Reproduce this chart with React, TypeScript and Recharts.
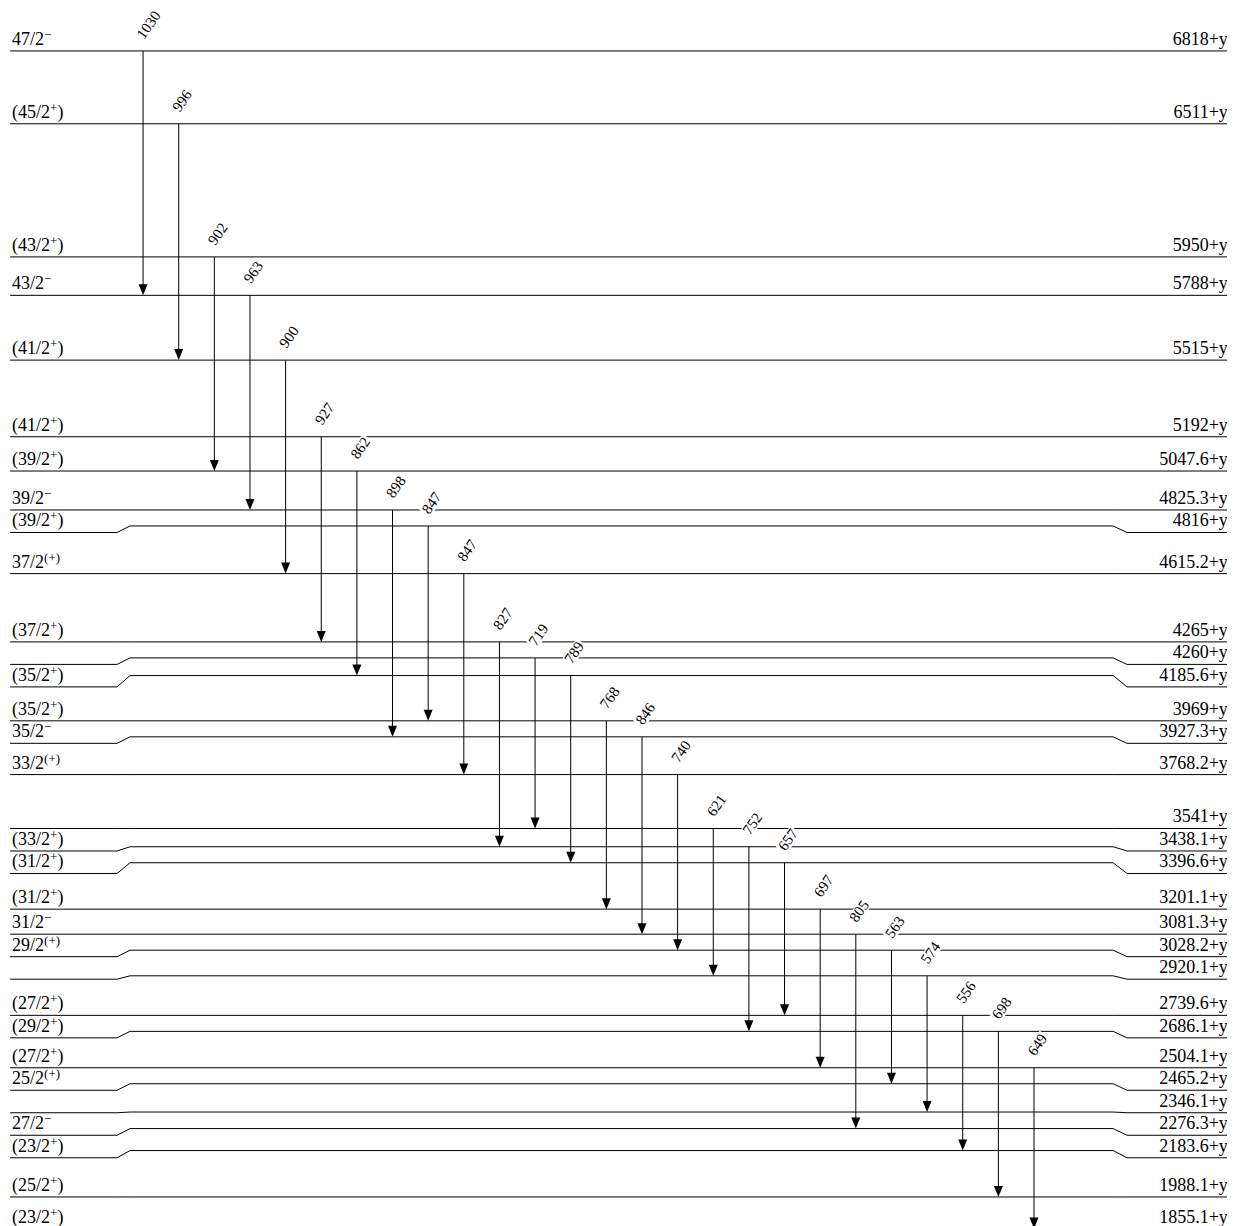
import React from "react"
import { ComposedChart, Line, XAxis, YAxis, ReferenceDot } from "recharts"

// levels, top to bottom (spin^{parity}, energy above the band head y)
const levelSpin = [
  "47/2^{−}", "(45/2^{+})", "(43/2^{+})", "43/2^{−}", "(41/2^{+})", "(41/2^{+})",
  "(39/2^{+})", "39/2^{−}", "(39/2^{+})", "37/2^{(+)}", "(37/2^{+})", "",
  "(35/2^{+})", "(35/2^{+})", "35/2^{−}", "33/2^{(+)}", "", "(33/2^{+})",
  "(31/2^{+})", "(31/2^{+})", "31/2^{−}", "29/2^{(+)}", "", "(27/2^{+})",
  "(29/2^{+})", "(27/2^{+})", "25/2^{(+)}", "", "27/2^{−}", "(23/2^{+})",
  "(25/2^{+})", "(23/2^{+})",
]
const levelEnergy = [
  6818, 6511, 5950, 5788, 5515, 5192, 5047.6, 4825.3, 4816, 4615.2, 4265, 4260,
  4185.6, 3969, 3927.3, 3768.2, 3541, 3438.1, 3396.6, 3201.1, 3081.3, 3028.2,
  2920.1, 2739.6, 2686.1, 2504.1, 2465.2, 2346.1, 2276.3, 2183.6, 1988.1, 1855.1,
]

// gamma transitions, left to right
const gammaEnergy = [
  1030, 996, 902, 963, 900, 927, 862, 898, 847, 847, 827, 719, 789, 768, 846, 740,
  621, 752, 657, 697, 805, 563, 574, 556, 698, 649,
]
const gammaFrom = [0, 1, 2, 3, 4, 5, 6, 7, 8, 9, 10, 11, 12, 13, 14, 15, 16, 17, 18, 19, 20, 21, 22, 23, 24, 25]
const gammaTo = [3, 4, 6, 7, 9, 10, 12, 14, 13, 15, 17, 16, 18, 19, 20, 21, 22, 24, 23, 25, 28, 26, 27, 29, 30, 31]

const W = 1227
const H = 1240
const E_MIN = 1773
const E_MAX = 6999
const X_MIN = -3.79
const X_MAX = 30.64
const PX_PER_KEV = H / (E_MAX - E_MIN)

// minimum spacing between level lines and between their labels
const LEVEL_GAP = 16 / PX_PER_KEV
const LABEL_GAP = 22.5 / PX_PER_KEV

// x extents of a level line, in transition-slot units
const LX0 = -3.73
const KL0 = -0.73
const KL1 = -0.365
const KR0 = 27.22
const KR1 = 27.61
const LX1 = 30.61
const SPIN_X = -3.675
const ENERGY_X = 30.44

const FONT = "'Liberation Serif', 'Times New Roman', serif"

// push close levels apart (upwards), then push labels apart (downwards)
const drawnE: number[] = levelEnergy.slice()
for (let i = drawnE.length - 2; i >= 0; i--) {
  drawnE[i] = Math.max(levelEnergy[i], drawnE[i + 1] + LEVEL_GAP)
}
const labelE: number[] = drawnE.slice()
for (let i = 1; i < labelE.length; i++) {
  labelE[i] = Math.min(drawnE[i], labelE[i - 1] - LABEL_GAP)
}

function SpinText({ spin, x, y }: { spin: string; x: number; y: number }) {
  const m = spin.match(/^(.*)\^\{(.*)\}(.*)$/)
  if (!m) return null
  return (
    <text x={x} y={y} fontSize={18} fontFamily={FONT} fill="#000">
      {m[1]}
      <tspan dy={-6} fontSize={13}>{m[2]}</tspan>
      <tspan dy={6} fontSize={18}>{m[3]}</tspan>
    </text>
  )
}

export default function App() {
  return (
    <div style={{ width: W, height: 1218, overflow: "hidden" }}>
      <ComposedChart width={W} height={H} margin={{ top: 0, right: 0, bottom: 0, left: 0 }}>
        <XAxis type="number" dataKey="x" domain={[X_MIN, X_MAX]} allowDataOverflow hide />
        <YAxis type="number" domain={[E_MIN, E_MAX]} allowDataOverflow hide />

        {levelEnergy.map((_, i) => (
          <Line
            key={`lvl${i}`}
            data={[
              { x: LX0, y: labelE[i] },
              { x: KL0, y: labelE[i] },
              { x: KL1, y: drawnE[i] },
              { x: KR0, y: drawnE[i] },
              { x: KR1, y: labelE[i] },
              { x: LX1, y: labelE[i] },
            ]}
            dataKey="y"
            type="linear"
            stroke="#000"
            strokeWidth={1}
            dot={false}
            activeDot={false}
            isAnimationActive={false}
          />
        ))}

        {gammaEnergy.map((_, i) => (
          <Line
            key={`g${i}`}
            data={[
              { x: i, y: drawnE[gammaFrom[i]] },
              { x: i, y: drawnE[gammaTo[i]] + 8 / PX_PER_KEV },
            ]}
            dataKey="y"
            type="linear"
            stroke="#000"
            strokeWidth={1}
            dot={false}
            activeDot={false}
            isAnimationActive={false}
          />
        ))}

        {gammaEnergy.map((_, i) => (
          <ReferenceDot
            key={`head${i}`}
            x={i}
            y={drawnE[gammaTo[i]]}
            r={0}
            ifOverflow="visible"
            shape={(p: any) => (
              <path
                d={`M${p.cx},${p.cy} L${p.cx - 4.5},${p.cy - 11} L${p.cx + 4.5},${p.cy - 11} Z`}
                fill="#000"
              />
            )}
          />
        ))}

        {gammaEnergy.map((e, i) => (
          <ReferenceDot
            key={`gl${i}`}
            x={i}
            y={drawnE[gammaFrom[i]]}
            r={0}
            ifOverflow="visible"
            shape={(p: any) => {
              const txt = String(e)
              const w = txt.length * 7.5
              return (
                <g transform={`translate(${p.cx + 1},${p.cy - 11}) rotate(-55)`}>
                  <rect x={-1.5} y={-11} width={w + 3} height={13} fill="#fff" />
                  <text x={0} y={0} fontSize={15} fontFamily={FONT} fill="#000">
                    {txt}
                  </text>
                </g>
              )
            }}
          />
        ))}

        {levelEnergy.map((e, i) => (
          <ReferenceDot
            key={`sp${i}`}
            x={SPIN_X}
            y={labelE[i]}
            r={0}
            ifOverflow="visible"
            shape={(p: any) => <SpinText spin={levelSpin[i]} x={p.cx} y={p.cy - 6} />}
          />
        ))}

        {levelEnergy.map((e, i) => (
          <ReferenceDot
            key={`en${i}`}
            x={ENERGY_X}
            y={labelE[i]}
            r={0}
            ifOverflow="visible"
            shape={(p: any) => (
              <text x={p.cx} y={p.cy - 6} fontSize={18} fontFamily={FONT} fill="#000" textAnchor="end">
                {`${e}+y`}
              </text>
            )}
          />
        ))}
      </ComposedChart>
    </div>
  )
}
